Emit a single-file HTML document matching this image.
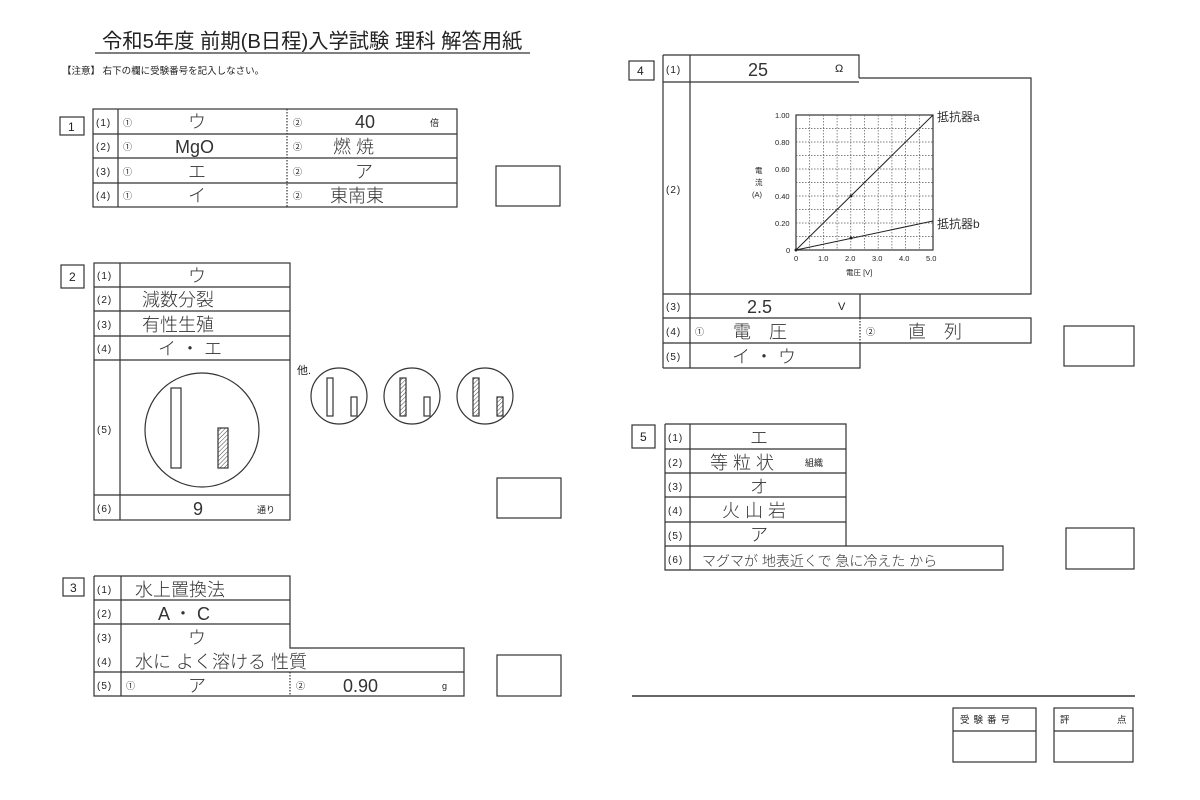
<!DOCTYPE html>
<html><head><meta charset="utf-8"><style>
html,body{margin:0;padding:0;background:#fff;}
svg{display:block;}
text{font-family:"Liberation Sans","Noto Sans CJK JP",sans-serif;fill:#222;}
.lb{font-size:10px;letter-spacing:1px;}
.nb{font-size:12px;}
.hw{font-size:18px;font-weight:300;fill:#333;}
.sm{font-size:9px;}
</style></head><body>
<svg width="1200" height="800" viewBox="0 0 1200 800" xmlns="http://www.w3.org/2000/svg">
<defs>
<pattern id="h" width="3" height="3" patternUnits="userSpaceOnUse" patternTransform="rotate(45)"><line x1="0" y1="0" x2="0" y2="3" stroke="#444" stroke-width="1"/></pattern>
</defs>
<g stroke="#333" stroke-width="1.2" fill="none">
<line x1="95" y1="53" x2="530" y2="53"/>
<rect x="60" y="117" width="24" height="18"/>
<rect x="93" y="109" width="364" height="98"/>
<line x1="93" y1="134" x2="457" y2="134"/><line x1="93" y1="158" x2="457" y2="158"/><line x1="93" y1="183" x2="457" y2="183"/>
<line x1="118" y1="109" x2="118" y2="207"/>
<line x1="287" y1="109" x2="287" y2="207" stroke-dasharray="1.5,1.5"/>
<rect x="496" y="166" width="64" height="40"/>
<rect x="61" y="265" width="23" height="23"/>
<rect x="94" y="263" width="196" height="257"/>
<line x1="94" y1="287" x2="290" y2="287"/><line x1="94" y1="311" x2="290" y2="311"/><line x1="94" y1="336" x2="290" y2="336"/><line x1="94" y1="360" x2="290" y2="360"/><line x1="94" y1="495" x2="290" y2="495"/>
<line x1="120" y1="263" x2="120" y2="520"/>
<circle cx="202" cy="430" r="57"/>
<rect x="171" y="388" width="10" height="80"/>
<rect x="218" y="428" width="10" height="40" fill="url(#h)"/>
<circle cx="339" cy="396" r="28"/><rect x="327" y="378" width="6" height="38"/><rect x="351" y="397" width="6" height="19"/>
<circle cx="412" cy="396" r="28"/><rect x="400" y="378" width="6" height="38" fill="url(#h)"/><rect x="424" y="397" width="6" height="19"/>
<circle cx="485" cy="396" r="28"/><rect x="473" y="378" width="6" height="38" fill="url(#h)"/><rect x="497" y="397" width="6" height="19" fill="url(#h)"/>
<rect x="497" y="478" width="64" height="40"/>
<rect x="63" y="578" width="21" height="18"/>
<polyline points="94,576 290,576 290,648 464,648 464,696 94,696 94,576"/>
<line x1="94" y1="600" x2="290" y2="600"/><line x1="94" y1="624" x2="290" y2="624"/><line x1="94" y1="672" x2="464" y2="672"/>
<line x1="121" y1="576" x2="121" y2="696"/>
<line x1="290" y1="672" x2="290" y2="696" stroke-dasharray="1.5,1.5"/>
<rect x="497" y="655" width="64" height="41"/>
<rect x="629" y="61" width="25" height="19"/>
<polyline points="663,55 859,55 859,78"/>
<line x1="663" y1="55" x2="663" y2="368"/>
<line x1="690" y1="55" x2="690" y2="368"/>
<line x1="663" y1="82" x2="859" y2="82"/>
<polyline points="859,78 1031,78 1031,294 663,294"/>
<line x1="860" y1="294" x2="860" y2="318"/>
<polyline points="663,318 1031,318 1031,343 663,343"/>
<line x1="860" y1="318" x2="860" y2="343" stroke-dasharray="1.5,1.5"/>
<polyline points="860,343 860,368 663,368"/>
<rect x="1064" y="326" width="70" height="40"/>
<rect x="796" y="115" width="137" height="135"/>
</g>
<g stroke="#555" stroke-width="0.7" stroke-dasharray="1.5,1.5">
<line x1="809.7" y1="115" x2="809.7" y2="250"/><line x1="823.4" y1="115" x2="823.4" y2="250"/><line x1="837.1" y1="115" x2="837.1" y2="250"/><line x1="850.8" y1="115" x2="850.8" y2="250"/><line x1="864.5" y1="115" x2="864.5" y2="250"/><line x1="878.2" y1="115" x2="878.2" y2="250"/><line x1="891.9" y1="115" x2="891.9" y2="250"/><line x1="905.6" y1="115" x2="905.6" y2="250"/><line x1="919.3" y1="115" x2="919.3" y2="250"/>
<line x1="796" y1="128.5" x2="933" y2="128.5"/><line x1="796" y1="142" x2="933" y2="142"/><line x1="796" y1="155.5" x2="933" y2="155.5"/><line x1="796" y1="169" x2="933" y2="169"/><line x1="796" y1="182.5" x2="933" y2="182.5"/><line x1="796" y1="196" x2="933" y2="196"/><line x1="796" y1="209.5" x2="933" y2="209.5"/><line x1="796" y1="223" x2="933" y2="223"/><line x1="796" y1="236.5" x2="933" y2="236.5"/>
</g>
<g stroke="#222" stroke-width="1">
<line x1="796" y1="250" x2="933" y2="115"/><line x1="796" y1="250" x2="933" y2="221"/>
</g>
<circle cx="851" cy="196" r="1.5" fill="#222"/><circle cx="851" cy="238" r="1.5" fill="#222"/><circle cx="796" cy="250" r="1.5" fill="#222"/>
<g stroke="#333" stroke-width="1.2" fill="none">
<rect x="632" y="425" width="23" height="23"/>
<polyline points="665,424 846,424 846,546 1003,546 1003,570 665,570 665,424"/>
<line x1="665" y1="449" x2="846" y2="449"/><line x1="665" y1="473" x2="846" y2="473"/><line x1="665" y1="497" x2="846" y2="497"/><line x1="665" y1="522" x2="846" y2="522"/><line x1="665" y1="546" x2="846" y2="546"/>
<line x1="690" y1="424" x2="690" y2="570"/>
<rect x="1066" y="528" width="68" height="41"/>
<line x1="632" y1="696" x2="1135" y2="696" stroke-width="1.5"/>
<rect x="953" y="708" width="83" height="54"/><line x1="953" y1="731" x2="1036" y2="731"/>
<rect x="1054" y="708" width="79" height="54"/><line x1="1054" y1="731" x2="1133" y2="731"/>
</g>

<text x="102" y="48" style="font-size:20.3px">令和5年度 前期(B日程)入学試験 理科 解答用紙</text>
<text x="62" y="74" style="font-size:9.5px">【注意】 右下の欄に受験番号を記入しなさい。</text>

<text x="68" y="131" class="nb">1</text>
<text x="96" y="126" class="lb">(1)</text><text x="96" y="150" class="lb">(2)</text><text x="96" y="175" class="lb">(3)</text><text x="96" y="199" class="lb">(4)</text>
<text x="123" y="126" class="sm">①</text><text x="123" y="150" class="sm">①</text><text x="123" y="175" class="sm">①</text><text x="123" y="199" class="sm">①</text>
<text x="293" y="126" class="sm">②</text><text x="293" y="150" class="sm">②</text><text x="293" y="175" class="sm">②</text><text x="293" y="199" class="sm">②</text>
<text x="188" y="128" class="hw">ウ</text><text x="175" y="153" class="hw">MgO</text><text x="188" y="178" class="hw">エ</text><text x="188" y="202" class="hw">イ</text>
<text x="355" y="128" class="hw">40</text><text x="430" y="126" class="sm">倍</text>
<text x="333" y="153" class="hw">燃 焼</text><text x="355" y="178" class="hw">ア</text><text x="330" y="202" class="hw">東南東</text>

<text x="69" y="281" class="nb">2</text>
<text x="97" y="279" class="lb">(1)</text><text x="97" y="303" class="lb">(2)</text><text x="97" y="328" class="lb">(3)</text><text x="97" y="352" class="lb">(4)</text><text x="97" y="433" class="lb">(5)</text><text x="97" y="512" class="lb">(6)</text>
<text x="188" y="282" class="hw">ウ</text><text x="142" y="306" class="hw">減数分裂</text><text x="142" y="331" class="hw">有性生殖</text><text x="158" y="355" class="hw">イ ・ エ</text>
<text x="193" y="515" class="hw">9</text><text x="257" y="513" class="sm">通り</text>
<text x="297" y="374" style="font-size:11px">他.</text>

<text x="70" y="592" class="nb">3</text>
<text x="97" y="593" class="lb">(1)</text><text x="97" y="617" class="lb">(2)</text><text x="97" y="641" class="lb">(3)</text><text x="97" y="665" class="lb">(4)</text><text x="97" y="689" class="lb">(5)</text>
<text x="135" y="596" class="hw">水上置換法</text><text x="158" y="620" class="hw">A ・ C</text><text x="188" y="644" class="hw">ウ</text>
<text x="135" y="668" class="hw">水に よく溶ける 性質</text>
<text x="126" y="689" class="sm">①</text><text x="188" y="692" class="hw">ア</text>
<text x="296" y="689" class="sm">②</text><text x="343" y="692" class="hw">0.90</text><text x="442" y="689" class="sm">g</text>

<text x="637" y="75" class="nb">4</text>
<text x="666" y="73" class="lb">(1)</text><text x="666" y="193" class="lb">(2)</text><text x="666" y="310" class="lb">(3)</text><text x="666" y="335" class="lb">(4)</text><text x="666" y="360" class="lb">(5)</text>
<text x="748" y="76" class="hw">25</text><text x="835" y="72" style="font-size:11px">Ω</text>
<text x="747" y="313" class="hw">2.5</text><text x="838" y="310" style="font-size:11px">V</text>
<text x="695" y="335" class="sm">①</text><text x="733" y="338" class="hw">電　圧</text>
<text x="866" y="335" class="sm">②</text><text x="908" y="338" class="hw">直　列</text>
<text x="732" y="363" class="hw">イ ・ ウ</text>
<g style="font-size:7.5px">
<text x="775" y="118">1.00</text><text x="775" y="145">0.80</text><text x="775" y="172">0.60</text><text x="775" y="199">0.40</text><text x="775" y="226">0.20</text><text x="786" y="253">0</text>
<text x="794" y="261">0</text><text x="818" y="261">1.0</text><text x="845" y="261">2.0</text><text x="872" y="261">3.0</text><text x="899" y="261">4.0</text><text x="926" y="261">5.0</text>
<text x="846" y="275">電圧 [V]</text>
<text x="755" y="173">電</text><text x="755" y="185">流</text><text x="752" y="197">(A)</text>
</g>
<text x="937" y="121" style="font-size:12px;fill:#333">抵抗器a</text>
<text x="937" y="228" style="font-size:12px;fill:#333">抵抗器b</text>

<text x="640" y="441" class="nb">5</text>
<text x="668" y="441" class="lb">(1)</text><text x="668" y="466" class="lb">(2)</text><text x="668" y="490" class="lb">(3)</text><text x="668" y="514" class="lb">(4)</text><text x="668" y="539" class="lb">(5)</text><text x="668" y="563" class="lb">(6)</text>
<text x="750" y="444" class="hw">エ</text><text x="710" y="469" class="hw">等 粒 状</text><text x="805" y="466" class="sm">組織</text>
<text x="750" y="493" class="hw">オ</text><text x="722" y="517" class="hw">火 山 岩</text><text x="750" y="541" class="hw">ア</text>
<text x="702" y="566" style="font-size:14px;font-weight:300;fill:#333">マグマが 地表近くで 急に冷えた から</text>

<text x="960" y="723" style="font-size:9.5px;letter-spacing:4px">受験番号</text>
<text x="1060" y="723" style="font-size:9.5px">評</text><text x="1117" y="723" style="font-size:9.5px">点</text>
</svg>
</body></html>
